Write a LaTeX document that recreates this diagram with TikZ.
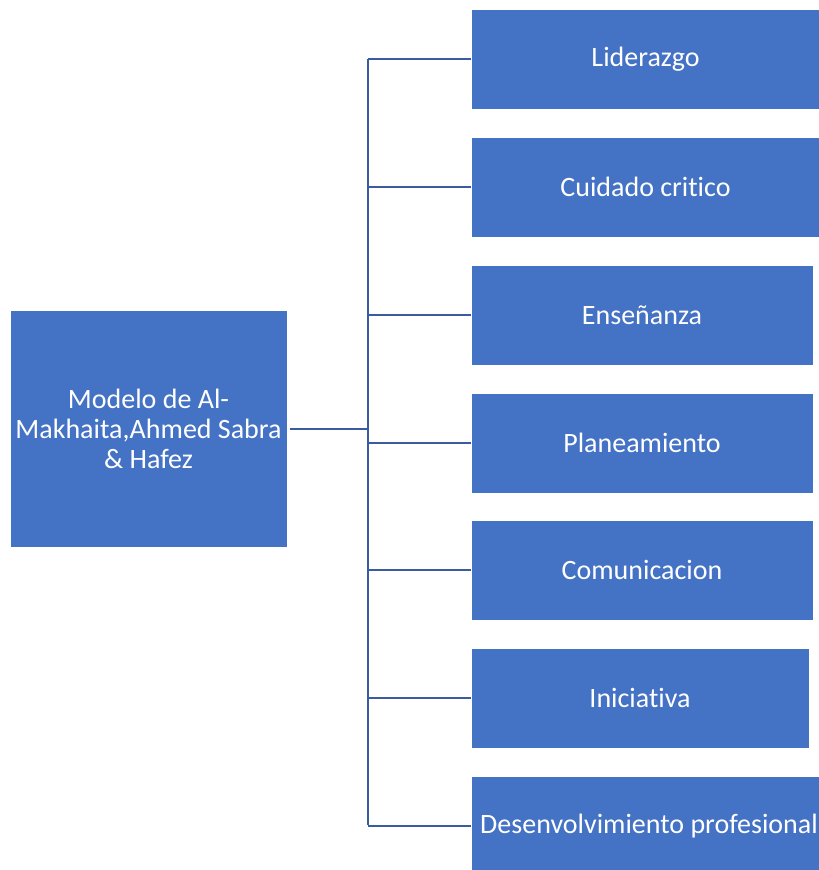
\documentclass[tikz,border=0pt]{standalone}
\usepackage{fontspec}
\setmainfont{Carlito}[Ligatures=CommonOff]
\definecolor{boxblue}{HTML}{4472C4}
\definecolor{linkblue}{HTML}{3A5C9C}
\begin{document}
\begin{tikzpicture}[x=0.75pt,y=-0.75pt,
  box/.style={rectangle, fill=boxblue, draw=white, line width=0.4pt,
    text=white, align=center, inner sep=0pt,
    font=\fontsize{21pt}{22.5pt}\selectfont},
  link/.style={draw=linkblue, line width=1.6pt}]
  \useasboundingbox (0,0) rectangle (818,870);

  % root box
  \node[box, minimum width=277*0.75pt, minimum height=237*0.75pt] (root)
    at (148.5,428.5) {Modelo de Al-\\Makhaita,Ahmed Sabra\\\& Hafez};

  % branch boxes
  \node[box, minimum width=349*0.75pt, minimum height=100*0.75pt] (b1) at (645.5,59) {Liderazgo};
  \node[box, minimum width=349*0.75pt, minimum height=100*0.75pt] (b2) at (645.5,187) {Cuidado critico};
  \node[box, minimum width=342*0.75pt, minimum height=100*0.75pt] (b3) at (642,315) {Enseñanza};
  \node[box, minimum width=342*0.75pt, minimum height=100*0.75pt] (b4) at (642,443) {Planeamiento};
  \node[box, minimum width=342*0.75pt, minimum height=100*0.75pt] (b5) at (642,570) {Comunicacion};
  \node[box, minimum width=338*0.75pt, minimum height=100*0.75pt] (b6) at (640,698) {Iniciativa};
  \node[box, minimum width=356*0.75pt, minimum height=100*0.75pt] (b7) at (649,826) {Desenvolvimiento profesional};

  % trunk
  \coordinate (top) at (368,59);
  \coordinate (bot) at (368,825);
  \coordinate (hub) at (368,429);
  \draw[link] (top) -- (bot);
  \draw[link] ([xshift=2pt]root.east |- hub) -- (hub);
  \foreach \n in {b1,b2,b3,b4,b5,b6,b7}
    \draw[link] (hub |- \n.west) -- (\n.west);
\end{tikzpicture}
\end{document}
